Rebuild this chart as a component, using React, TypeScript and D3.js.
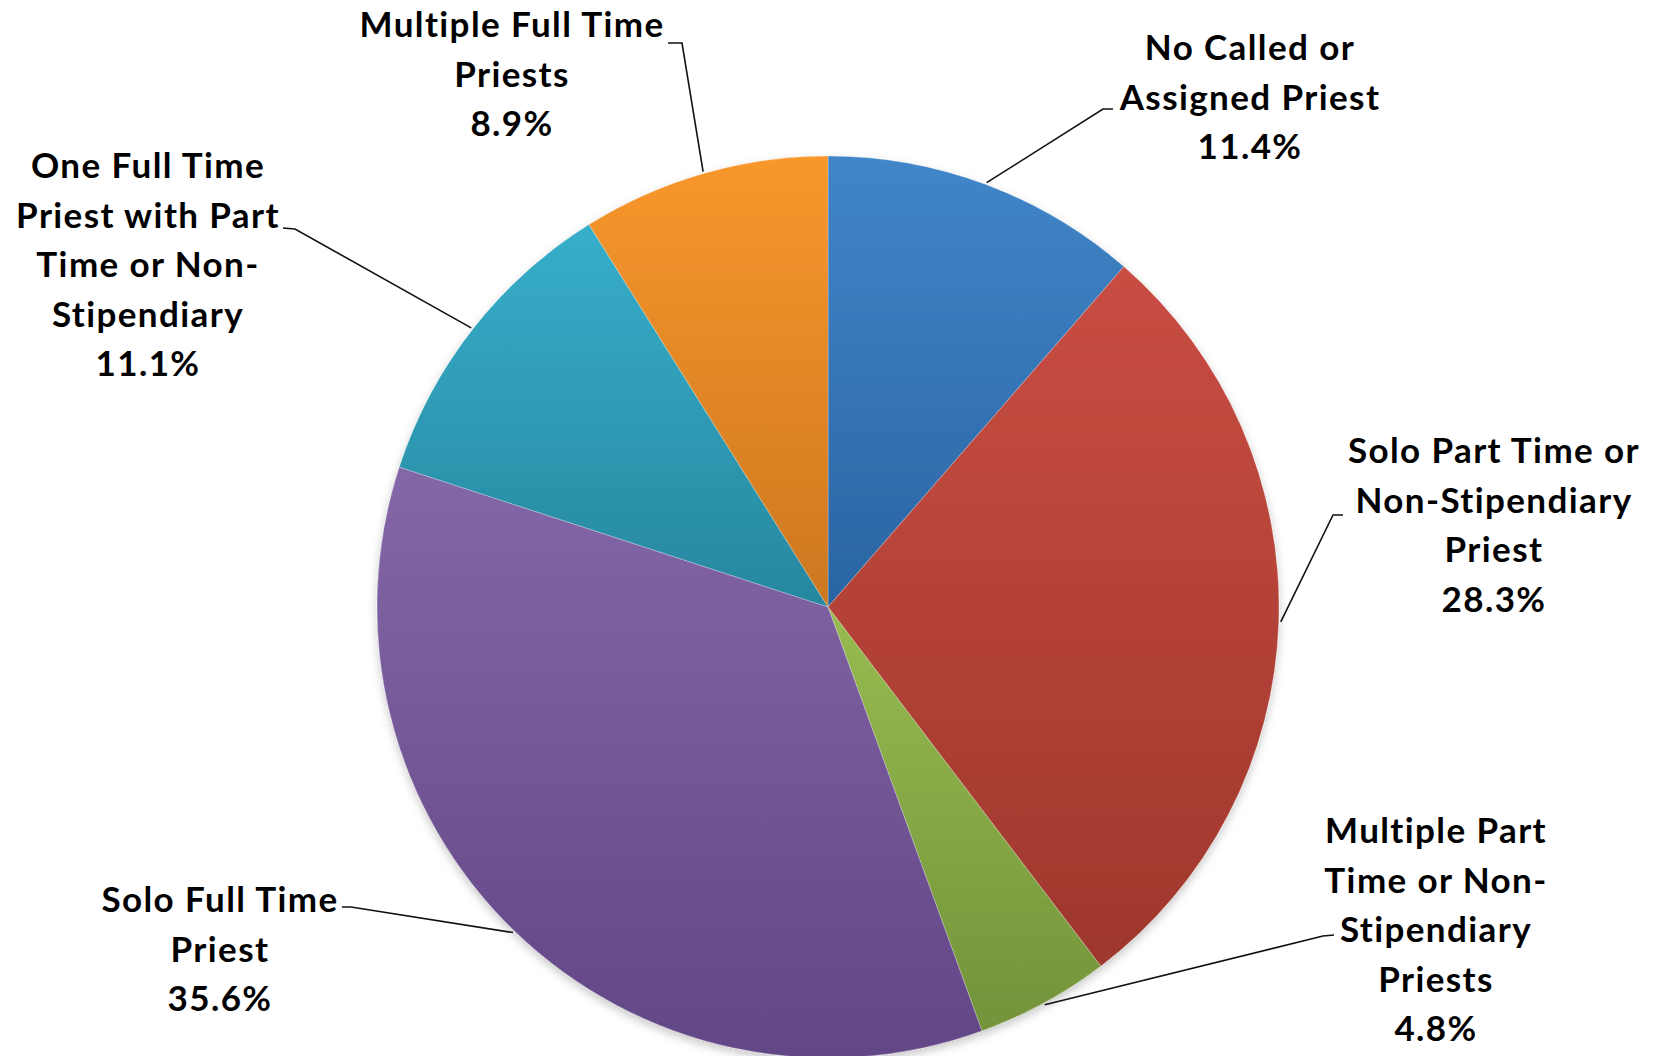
import React from "react";
import * as d3 from "d3";

const categories = [
  "No Called or Assigned Priest",
  "Solo Part Time or Non-Stipendiary Priest",
  "Multiple Part Time or Non-Stipendiary Priests",
  "Solo Full Time Priest",
  "One Full Time Priest with Part Time or Non-Stipendiary",
  "Multiple Full Time Priests",
];
const values = [11.4, 28.3, 4.8, 35.6, 11.1, 8.9];
const labelLines = [
  ["No Called or", "Assigned Priest"],
  ["Solo Part Time or", "Non-Stipendiary", "Priest"],
  ["Multiple Part", "Time or Non-", "Stipendiary", "Priests"],
  ["Solo Full Time", "Priest"],
  ["One Full Time", "Priest with Part", "Time or Non-", "Stipendiary"],
  ["Multiple Full Time", "Priests"],
];
const colorsTop = ["#4086c9", "#c94d43", "#97bb50", "#8467a6", "#37aeca", "#f8972c"];
const colorsBottom = ["#2a64a2", "#9e372c", "#73933a", "#624686", "#27879f", "#cc7720"];

// layout of the labels (placement only)
const W = 1654;
const H = 1056;
const CX = 828;
const CY = 607;
const R = 451;
const LINE_H = 49.5;
const labelLayout = [
  { cx: 1250, y0: 60, attach: [1113, 109], elbow: [1103, 109] },
  { cx: 1494, y0: 463, attach: [1343, 515], elbow: [1333, 515] },
  { cx: 1436, y0: 843, attach: [1334, 935], elbow: [1323, 936] },
  { cx: 220, y0: 912, attach: [342, 907], elbow: [351, 907] },
  { cx: 148, y0: 178, attach: [283, 228], elbow: [295, 229] },
  { cx: 512, y0: 37, attach: [668, 43], elbow: [682, 43] },
];

export default function App() {
  const pie = d3
    .pie<number>()
    .sort(null)
    .value((d) => d)
    .startAngle(0)
    .endAngle(2 * Math.PI);
  const arcs = pie(values);
  const arcGen = d3.arc<d3.PieArcDatum<number>>().innerRadius(0).outerRadius(R);

  return (
    <svg
      width={W}
      height={H}
      viewBox={`0 0 ${W} ${H}`}
      style={{ position: "absolute", left: 0, top: 0, background: "#fff" }}
      fontFamily="Lato, 'Open Sans', sans-serif"
    >
      <defs>
        {colorsTop.map((c, i) => (
          <linearGradient key={i} id={`g${i}`} x1={0} y1={0} x2={0} y2={1}>
            <stop offset="0%" stopColor={c} />
            <stop offset="100%" stopColor={colorsBottom[i]} />
          </linearGradient>
        ))}
        <filter id="shadow" x="-10%" y="-10%" width="120%" height="120%">
          <feDropShadow dx="0" dy="4" stdDeviation="5" floodColor="#000" floodOpacity="0.22" />
        </filter>
      </defs>
      <rect x={0} y={0} width={W} height={H} fill="#fff" />
      <g transform={`translate(${CX},${CY})`} filter="url(#shadow)">
        {arcs.map((a, i) => (
          <path
            key={categories[i]}
            d={arcGen(a) || ""}
            fill={`url(#g${i})`}
            stroke="#ffffff"
            strokeOpacity={0.25}
            strokeWidth={1}
          />
        ))}
      </g>
      {arcs.map((a, i) => {
        const mid = (a.startAngle + a.endAngle) / 2;
        const px = CX + Math.sin(mid) * (R + 2);
        const py = CY - Math.cos(mid) * (R + 2);
        const L = labelLayout[i];
        return (
          <polyline
            key={`l${i}`}
            points={`${px},${py} ${L.elbow[0]},${L.elbow[1]} ${L.attach[0]},${L.attach[1]}`}
            fill="none"
            stroke="#111"
            strokeWidth={1.6}
          />
        );
      })}
      {labelLines.map((lines, i) => {
        const L = labelLayout[i];
        const all = [...lines, `${values[i].toFixed(1)}%`];
        return (
          <text
            key={`t${i}`}
            textAnchor="middle"
            fontSize={35}
            fontWeight="bold"
            letterSpacing={1.4}
            fill="#000"
          >
            {all.map((s, j) => (
              <tspan key={j} x={L.cx} y={L.y0 + j * LINE_H}>
                {s}
              </tspan>
            ))}
          </text>
        );
      })}
    </svg>
  );
}
